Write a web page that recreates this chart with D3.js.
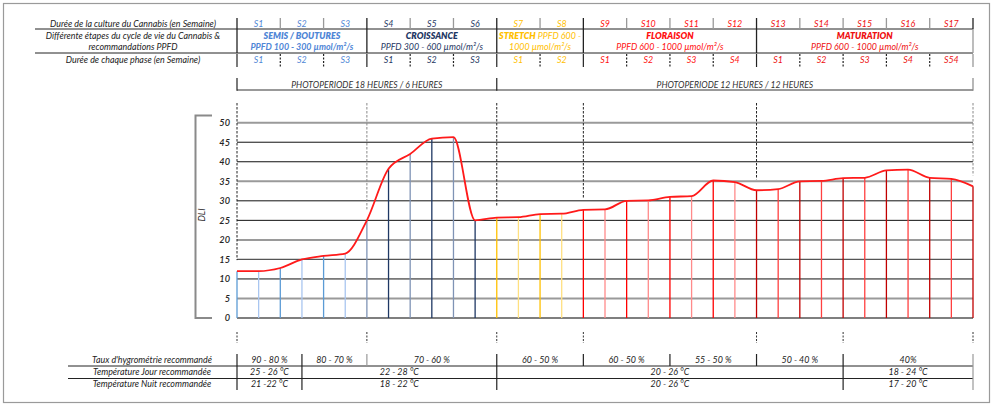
<!DOCTYPE html>
<html>
<head>
<meta charset="utf-8">
<style>
    body { margin: 0; background: #ffffff; font-family: Lato, "Open Sans", sans-serif; }
    svg text { font-style: italic; }
</style>
<script src="https://cdn.jsdelivr.net/npm/d3@7"></script>
</head>
<body>
<svg id="Cycle"></svg>
<script>
    // Semaines de culture
    const semaines = ["S1","S2","S3","S4","S5","S6","S7","S8","S9","S10","S11","S12","S13","S14","S15","S16","S17"];

    // Phases du cycle
    const phaseNoms = ["SEMIS / BOUTURES", "CROISSANCE", "STRETCH", "FLORAISON", "MATURATION"];
    const phasePpfd = ["PPFD 100 - 300 µmol/m²/s", "PPFD 300 - 600 µmol/m²/s", " PPFD 600 -", "PPFD 600 - 1000 µmol/m²/s", "PPFD 600 - 1000 µmol/m²/s"];
    const phaseDebut = [0, 3, 6, 8, 12];
    const phaseFin = [3, 6, 8, 12, 17];
    const phaseSemaines = [["S1","S2","S3"], ["S1","S2","S3"], ["S1","S2"], ["S1","S2","S3","S4"], ["S1","S2","S3","S4","S54"]];

    // DLI toutes les demi-semaines (semaine 0 à 17)
    const dli = [12, 12, 12.8, 15, 15.9, 16.5, 25, 38.2, 42, 45.9, 46.3, 25, 25.7, 25.8, 26.6, 26.7, 27.7, 27.8,
                 30, 30.1, 31, 31.2, 35.2, 34.8, 32.7, 33, 35, 35.1, 35.8, 35.9, 37.8, 38, 35.9, 35.6, 33.7];
    const dliTicks = [0, 5, 10, 15, 20, 25, 30, 35, 40, 45, 50];

    // Photopériodes
    const photoLabels = ["PHOTOPERIODE 18 HEURES / 6 HEURES", "PHOTOPERIODE 12 HEURES / 12 HEURES"];
    const photoBornes = [0, 6, 17];

    // Tableau du bas
    const hygroBornes = [0, 1.5, 3, 6, 8, 10, 12, 14, 17];
    const hygroLabels = ["90 - 80 %", "80 - 70 %", "70 - 60 %", "60 - 50 %", "60 - 50 %", "55 - 50 %", "50 - 40 %", "40%"];
    const tempBornes = [0, 1.5, 6, 14, 17];
    const tempJour = ["25 - 26 °C", "22 - 28 °C", "20 - 26 °C", "18 - 24 °C"];
    const tempNuit = ["21 -22 °C", "18 - 22 °C", "20 - 26 °C", "17 - 20 °C"];
    const reperesBas = [0, 3, 6, 8, 12, 14, 17];

    const couleurs = ["#4f86d6", "#1f3864", "#ffc000", "#ff1010", "#ee1111"];
    const couleursBarres = [["#5b9bd5", "#a9c6f0"], ["#7f93b5", "#1f3864"], ["#ffc000", "#ffe080"], ["#ff0000", "#ff8a8a"], ["#c00000", "#ff4040"]];

    const ancho = 999, alto = 407;
    const svg = d3.select("#Cycle").attr("width", ancho).attr("height", alto);

    const x = d3.scaleLinear().domain([0, 17]).range([237, 973]);
    const y = d3.scaleLinear().domain([0, 50]).range([318, 122.7]);
    const taille = 8.9;

    function phaseDe(semaine) {
        let i = phaseDebut.findIndex((d, k) => semaine >= d && semaine < phaseFin[k]);
        return i < 0 ? phaseNoms.length - 1 : i;
    }

    // Cadre
    svg.append("rect").attr("x", 3.5).attr("y", 3.5).attr("width", 986).attr("height", 399)
        .attr("fill", "#fff").attr("stroke", "#9a9a9a").attr("stroke-width", 1.2);

    // ---------- Tableau du haut ----------
    const haut = svg.append("g");
    const lbl = (g, txt, xx, yy, opts = {}) => g.append("text").attr("x", xx).attr("y", yy)
        .attr("text-anchor", opts.anchor || "middle").attr("font-size", opts.size || taille)
        .attr("fill", opts.fill || "#222").attr("font-weight", opts.weight || 400).text(txt);

    lbl(haut, "Durée de la culture du Cannabis (en Semaine)", 133, 27);
    lbl(haut, "Différente étapes du cycle de vie du Cannabis &", 133, 39);
    lbl(haut, "recommandations PPFD", 133, 50);
    lbl(haut, "Durée de chaque phase (en Semaine)", 133, 62.5);

    haut.selectAll(".hl").data([29, 53]).enter().append("line")
        .attr("x1", 35).attr("x2", x(17)).attr("y1", d => d).attr("y2", d => d)
        .attr("stroke", "#222").attr("stroke-width", 1);

    // Ligne 1 : semaines
    haut.selectAll(".sem").data(semaines).enter().append("text")
        .attr("x", (d, i) => x(i + 0.5)).attr("y", 27).attr("text-anchor", "middle")
        .attr("font-size", taille).attr("fill", (d, i) => couleurs[phaseDe(i)]).text(d => d);
    const bornes = phaseDebut.concat([17]);
    haut.selectAll(".sep1").data(d3.range(18)).enter().append("line")
        .attr("x1", d => x(d)).attr("x2", d => x(d)).attr("y1", 18).attr("y2", 29)
        .attr("stroke", d => bornes.includes(d) ? "#222" : "#999").attr("stroke-width", 1.3);

    // Ligne 2 : phases
    haut.selectAll(".sep2").data(bornes).enter().append("line")
        .attr("x1", d => x(d)).attr("x2", d => x(d)).attr("y1", 29).attr("y2", 53)
        .attr("stroke", (d, i) => i === bornes.length - 1 ? "#999" : "#222").attr("stroke-width", 1.3);
    phaseNoms.forEach((nom, i) => {
        const cx = x((phaseDebut[i] + phaseFin[i]) / 2);
        if (nom === "STRETCH") {
            const t = haut.append("text").attr("x", cx).attr("y", 39).attr("text-anchor", "middle")
                .attr("font-size", taille).attr("fill", couleurs[i]);
            t.append("tspan").attr("font-weight", 800).text(nom);
            t.append("tspan").text(phasePpfd[i]);
            lbl(haut, "1000 µmol/m²/s", cx, 50, { fill: couleurs[i] });
        } else {
            lbl(haut, nom, cx, 39, { fill: couleurs[i], weight: 800 });
            lbl(haut, phasePpfd[i], cx, 50, { fill: couleurs[i], weight: i === 0 ? 700 : 400 });
        }
    });

    // Ligne 3 : semaines par phase
    phaseSemaines.forEach((liste, i) => {
        liste.forEach((s, k) => {
            const w = phaseDebut[i] + k;
            lbl(haut, s, x(w + 0.5), 62.5, { fill: couleurs[i] });
            haut.append("line").attr("x1", x(w)).attr("x2", x(w)).attr("y1", 54).attr("y2", 67)
                .attr("stroke", "#222").attr("stroke-width", 1.2)
                .attr("stroke-dasharray", k === 0 ? null : "2,1.5");
        });
    });
    haut.append("line").attr("x1", x(17)).attr("x2", x(17)).attr("y1", 54).attr("y2", 67)
        .attr("stroke", "#999").attr("stroke-width", 1.3);

    // ---------- Photopériode ----------
    const photo = svg.append("g");
    photo.append("line").attr("x1", x(0)).attr("x2", x(17)).attr("y1", 90).attr("y2", 90)
        .attr("stroke", "#777").attr("stroke-width", 1.5);
    photo.selectAll(".pt").data(photoBornes).enter().append("line")
        .attr("x1", d => x(d)).attr("x2", d => x(d)).attr("y1", 78).attr("y2", 90.7)
        .attr("stroke", (d, i) => i === 2 ? "#888" : "#222").attr("stroke-width", 1.2);
    photo.selectAll(".ptx").data(photoLabels).enter().append("text")
        .attr("x", (d, i) => x((photoBornes[i] + photoBornes[i + 1]) / 2)).attr("y", 87.5)
        .attr("text-anchor", "middle").attr("font-size", 8.6).attr("fill", "#333").text(d => d);

    // ---------- Graphique DLI ----------
    const grille = svg.append("g");
    const styleGrille = v => ([50, 35, 20, 5].includes(v) ? ["#9a9a9a", 2] : v === 15 || v === 0 ? ["#555", 1.4] : ["#111", 1]);
    grille.selectAll("line").data(dliTicks).enter().append("line")
        .attr("x1", x(0)).attr("x2", x(17)).attr("y1", d => y(d)).attr("y2", d => y(d))
        .attr("stroke", d => styleGrille(d)[0]).attr("stroke-width", d => styleGrille(d)[1]);

    // Barres verticales
    const points = dli.map((v, i) => ({ s: i / 2, v: v }));
    svg.append("g").selectAll("line").data(points).enter().append("line")
        .attr("x1", d => x(d.s)).attr("x2", d => x(d.s)).attr("y1", y(0)).attr("y2", d => y(d.v))
        .attr("stroke", (d, i) => couleursBarres[phaseDe(Math.floor(d.s))][i % 2])
        .attr("stroke-width", 1.3);

    // Pointillés des phases
    svg.append("g").selectAll("line").data(bornes).enter().append("line")
        .attr("x1", d => x(d)).attr("x2", d => x(d)).attr("y1", 103)
        .attr("y2", d => y(dli[d * 2]) - 11)
        .attr("stroke", (d, i) => (i === 1 || i === 5) ? "#888" : "#222")
        .attr("stroke-width", 1).attr("stroke-dasharray", "2.5,1.5");

    // Courbe
    svg.append("path").datum(points)
        .attr("d", d3.line().x(d => x(d.s)).y(d => y(d.v)).curve(d3.curveMonotoneX))
        .attr("fill", "none").attr("stroke", "#ff1a1a").attr("stroke-width", 1.8);

    // Axe Y
    const axeY = svg.append("g").attr("transform", "translate(230,0)")
        .call(d3.axisLeft(y).tickValues(dliTicks).tickSize(0).tickPadding(0));
    axeY.select(".domain").remove();
    axeY.selectAll("text").attr("font-size", 9.2).attr("font-family", "Lato, sans-serif")
        .attr("font-style", "italic").attr("font-weight", 600).attr("fill", "#222");
    svg.append("path").attr("d", `M212,115.5H195.5V318H212`).attr("fill", "none")
        .attr("stroke", "#8a8a8a").attr("stroke-width", 2);
    svg.append("text").attr("transform", "translate(205,215) rotate(-90)").attr("text-anchor", "middle")
        .attr("font-size", 9).attr("fill", "#222").text("DLI");

    // ---------- Tableau du bas ----------
    const bas = svg.append("g");
    bas.selectAll(".rep").data(reperesBas).enter().append("line")
        .attr("x1", d => x(d)).attr("x2", d => x(d)).attr("y1", 332).attr("y2", 343)
        .attr("stroke", "#333").attr("stroke-dasharray", "2,1.5");

    lbl(bas, "Taux d'hygrométrie recommandé", 152, 363);
    lbl(bas, "Température Jour recommandée", 152, 375);
    lbl(bas, "Température Nuit recommandée", 152, 387);
    bas.selectAll(".hl").data([366, 378.5]).enter().append("line")
        .attr("x1", 68).attr("x2", x(17)).attr("y1", d => d).attr("y2", d => d)
        .attr("stroke", "#222").attr("stroke-width", 1);

    bas.selectAll(".hv").data(hygroBornes).enter().append("line")
        .attr("x1", d => x(d)).attr("x2", d => x(d)).attr("y1", 354).attr("y2", 366)
        .attr("stroke", d => (d === 3 || d === 17) ? "#999" : "#222").attr("stroke-width", 1.2);
    bas.selectAll(".hx").data(hygroLabels).enter().append("text")
        .attr("x", (d, i) => x((hygroBornes[i] + hygroBornes[i + 1]) / 2)).attr("y", 363)
        .attr("text-anchor", "middle").attr("font-size", taille).attr("fill", "#222").text(d => d);

    bas.selectAll(".tv").data(tempBornes).enter().append("line")
        .attr("x1", d => x(d)).attr("x2", d => x(d)).attr("y1", 366).attr("y2", 390)
        .attr("stroke", d => d === 17 ? "#999" : "#222").attr("stroke-width", 1.2);
    [[tempJour, 375], [tempNuit, 387]].forEach(([liste, yy]) => {
        liste.forEach((t, i) => lbl(bas, t, x((tempBornes[i] + tempBornes[i + 1]) / 2), yy));
    });
</script>
</body>
</html>
